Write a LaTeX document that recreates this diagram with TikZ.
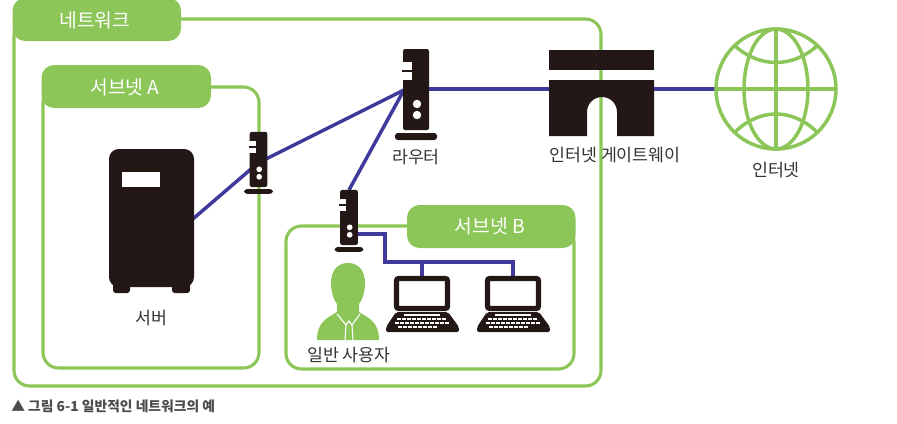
\documentclass[tikz,border=0pt]{standalone}
\usepackage{fontspec}
\setmainfont{Noto Sans CJK KR}
\definecolor{netgreen}{HTML}{8CC658}
\definecolor{devblack}{HTML}{231815}
\definecolor{linkblue}{HTML}{3F3A9C}
\tikzset{
  zone/.style={draw=netgreen,line width=2.2pt,rounded corners=11pt},
  tag/.style={fill=netgreen,rounded corners=9pt},
  taglabel/.style={text=white,font=\fontsize{13.7}{15}\selectfont},
  devlabel/.style={text=black!80,font=\fontsize{12.3}{14}\selectfont},
  link/.style={draw=linkblue,line width=2.5pt},
  lanlink/.style={draw=linkblue,line width=2.2pt},
  globeline/.style={draw=netgreen,line width=2.5pt},
  routerdev/.pic={
    \fill[devblack,rounded corners=1.5pt] (-13,-81) rectangle (13,0);
    \fill[white] (-14,-68) rectangle (-4,-50);
    \fill[devblack] (-14,-60) rectangle (-4,-58);
    \fill[white] (1,-26) circle[radius=4.2];
    \fill[white] (1,-15) circle[radius=4.2];
    \fill[devblack,rounded corners=2pt] (-21,3) rectangle (21,10);
  },
  laptopdev/.pic={
    \draw[devblack,fill=white,line width=3.6pt,rounded corners=1.5pt] (-25.5,-32.5) rectangle (25.5,-2.5);
    \fill[devblack,rounded corners=1.5pt] (-26,1) -- (26,1) -- (37,16) -- (37,21) -- (-36,21) -- (-36,16) -- cycle;
    \fill[white] (-18,3) rectangle (18,4.5);
    \foreach \k in {-25,-20,...,20}
      \fill[white] (\k,7) rectangle ++(4,2);
    \foreach \k in {-27,-22,...,23}
      \fill[white] (\k,11) rectangle ++(4,2);
    \foreach \k in {-24,-19,...,15}
      \fill[white] (\k,15) rectangle ++(4,2);
  },
}
\begin{document}
\begin{tikzpicture}[x=0.025cm,y=-0.025cm]
\useasboundingbox (0,0) rectangle (897,423);
% zones
\draw[zone] (14,19) rectangle (601,386);
\draw[zone] (43,87) rectangle (259,368);
\draw[zone] (286,226) rectangle (574,369);
\fill[tag] (12.5,-2) rectangle (181,41);
\fill[tag] (41.5,65) rectangle (211,108);
\fill[tag] (407,205) rectangle (575.5,248);
\node[taglabel] (netTag) at (95,20) {네트워크};
\node[taglabel] (subATag) at (125,87) {서브넷 A};
\node[taglabel] (subBTag) at (490,226) {서브넷 B};
% connection points
\coordinate (srv) at (151,255);
\coordinate (rtA) at (258,163);
\coordinate (rtL) at (404,90);
\coordinate (rtLout) at (416,89);
\coordinate (rtB) at (349,190);
\coordinate (rtBout) at (352,234);
\coordinate (bend) at (385,262);
\coordinate (lapA) at (422,280);
\coordinate (lapB) at (513,280);
\coordinate (gw) at (601,89);
\coordinate (inet) at (776,89);
% links
\draw[link] (srv) -- (rtA) -- (rtL);
\draw[link] (rtL) -- (rtB);
\draw[link] (rtLout) -- (gw) -- (inet);
\draw[lanlink] (rtBout) -| (bend) -| (lapB);
\draw[lanlink] (bend -| lapA) -- (lapA);
% server
\fill[devblack,rounded corners=7pt] (109,149) rectangle (194,287);
\fill[devblack,rounded corners=2pt] (113,280) rectangle (130,293);
\fill[devblack,rounded corners=2pt] (172,280) rectangle (190,293);
\fill[white] (122,172) rectangle (160,187);
% routers
\pic at (416,130) {routerdev};
\pic[scale=.68] at (258.5,187) {routerdev};
\pic[scale=.68] at (349,245) {routerdev};
% gateway
\fill[devblack] (549,50) rectangle (654,70);
\fill[devblack] (549,80) -- (654,80) -- (654,136) -- (617,136) -- (617,112)
  arc[start angle=0,end angle=-180,radius=15] -- (587,136) -- (549,136) -- cycle;
% internet
\draw[globeline,fill=white] (inet) circle[radius=60];
\draw[globeline] (inet) ellipse[x radius=32,y radius=60];
\draw[globeline] (716,89) -- (836,89);
\draw[globeline] (776,29) -- (776,149);
\draw[globeline] (735,46) .. controls (760,68) and (792,68) .. (817,46);
\draw[globeline] (735,132) .. controls (760,108) and (792,108) .. (817,132);
% laptops
\pic at (422,311) {laptopdev};
\pic at (513,311) {laptopdev};
% user
\fill[netgreen] (348,263) .. controls (358,263) and (365,270) .. (365,283)
  .. controls (365,293) and (362,300) .. (359,304) -- (359,312)
  .. controls (369,318) and (379,322) .. (379,340) -- (317,340)
  .. controls (317,322) and (327,318) .. (337,312) -- (337,304)
  .. controls (334,300) and (331,293) .. (331,283)
  .. controls (331,270) and (338,263) .. (348,263) -- cycle;
\draw[white,line width=.8pt] (337,314) -- (346,325) -- (349,321) -- (352,325) -- (360,314);
\draw[white,line width=.8pt] (346,325) -- (345,340);
\draw[white,line width=.8pt] (352,325) -- (353,340);
% labels
\node[devlabel] (srvLabel) at (151,318) {서버};
\node[devlabel] (rtLabel) at (416,157) {라우터};
\node[devlabel] (gwLabel) at (615,155) {인터넷 게이트웨이};
\node[devlabel] (inetLabel) at (776,170) {인터넷};
\node[devlabel] (userLabel) at (349,355) {일반 사용자};
\node[anchor=west,inner sep=0pt,text=black!70,font=\fontsize{9.8}{11}\selectfont\bfseries] (caption) at (11,406) {▲ 그림 6-1 일반적인 네트워크의 예};
\end{tikzpicture}
\end{document}
